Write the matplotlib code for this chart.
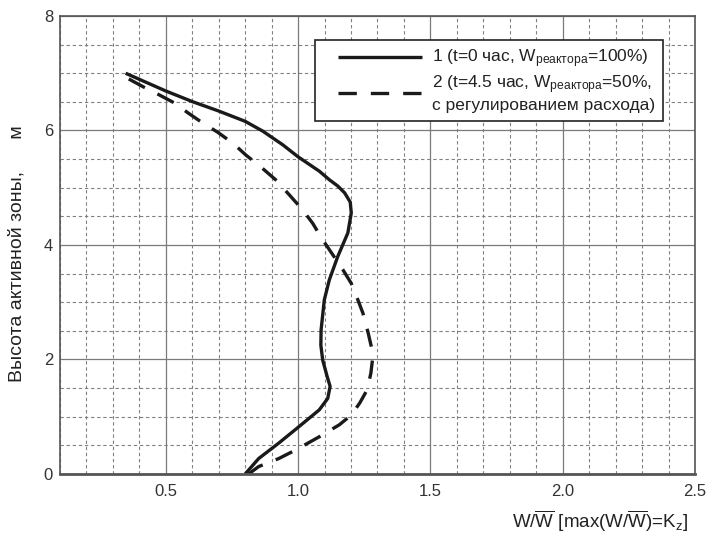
import matplotlib.pyplot as plt
from matplotlib.legend_handler import HandlerLine2D
import numpy as np

plt.rcParams['font.family'] = ['Liberation Sans', 'DejaVu Sans']
plt.rcParams['mathtext.fontset'] = 'custom'
plt.rcParams['mathtext.rm'] = 'Liberation Sans'
plt.rcParams['mathtext.it'] = 'Liberation Sans'

# кривая 1: t=0 час, W=100%
w1 = [0.348, 0.50, 0.603, 0.70, 0.80, 0.866, 0.942, 1.00, 1.08, 1.118, 1.150,
      1.176, 1.197, 1.201, 1.188, 1.150, 1.118, 1.099, 1.087, 1.086, 1.093, 1.110,
      1.121, 1.112, 1.080, 1.004, 0.927, 0.851, 0.80]
h1 = [7.0, 6.69, 6.50, 6.34, 6.16, 5.99, 5.75, 5.54, 5.29, 5.14, 5.03,
      4.91, 4.75, 4.56, 4.21, 3.80, 3.39, 3.04, 2.52, 2.25, 1.99, 1.70,
      1.53, 1.32, 1.12, 0.83, 0.54, 0.27, 0.0]

# кривая 2: t=4.5 час, W=50%, с регулированием расхода
w2 = [0.36, 0.42, 0.476, 0.533, 0.583, 0.64, 0.696, 0.753, 0.803, 0.86, 0.915,
      0.966, 1.016, 1.055, 1.093, 1.131, 1.169, 1.201, 1.226, 1.245, 1.265, 1.277,
      1.281, 1.275, 1.261, 1.233, 1.201, 1.156, 1.080, 0.991, 0.927, 0.851, 0.813]
h2 = [6.90, 6.75, 6.62, 6.48, 6.31, 6.13, 5.97, 5.78, 5.57, 5.36, 5.14,
      4.88, 4.62, 4.38, 4.09, 3.83, 3.57, 3.33, 3.04, 2.81, 2.46, 2.22,
      1.99, 1.76, 1.47, 1.24, 1.03, 0.86, 0.65, 0.42, 0.27, 0.13, 0.0]

x_ticks = [0.5, 1.0, 1.5, 2.0, 2.5]
x_labels = ['0.5', '1.0', '1.5', '2.0', '2.5']
y_ticks = [0, 2, 4, 6, 8]

fig = plt.figure(figsize=(7.08, 5.33), dpi=100)
ax = fig.add_axes([0.0847, 0.1107, 0.8969, 0.8593])

ax.set_xlim(0.1, 2.5)
ax.set_ylim(0, 8)
ax.set_xticks(x_ticks)
ax.set_xticklabels(x_labels)
ax.set_yticks(y_ticks)
ax.set_xticks(np.arange(0.1, 2.5, 0.1), minor=True)
ax.set_yticks(np.arange(0, 8, 0.5), minor=True)
ax.tick_params(which='both', length=0, labelsize=12, colors='#333333')
ax.tick_params(axis='x', pad=7)
ax.tick_params(axis='y', pad=5)

ax.grid(which='major', color='#7a7a7a', linestyle='-', linewidth=0.9)
ax.grid(which='minor', color='#808080', linestyle=(0, (3, 2.5)), linewidth=0.8)
ax.set_axisbelow(True)
for s in ax.spines.values():
    s.set_color('#555555')
    s.set_linewidth(1.2)
ax.spines['bottom'].set_linewidth(2)

ax.plot(w1, h1, color='#1a1a1a', lw=2.4, solid_capstyle='butt',
        label='1 (t=0 час, W$_{\\mathrm{реактора}}$=100%)')
ax.plot(w2, h2, color='#1a1a1a', lw=2.4, dashes=(5.5, 4.2),
        label='2 (t=4.5 час, W$_{\\mathrm{реактора}}$=50%,\nс регулированием расхода)')

# лишний отступ слева от линий в легенде
pad = 0.9
leg = ax.legend(loc='upper right', bbox_to_anchor=(0.9364, 0.925),
                bbox_transform=fig.transFigure, fontsize=12.5, frameon=True,
                fancybox=False, edgecolor='#222222', framealpha=1,
                handlelength=4.8 + pad, handletextpad=0.6, borderpad=0.45,
                labelspacing=0.15, borderaxespad=0,
                handler_map={plt.Line2D: HandlerLine2D(xpad=pad)})
leg.get_frame().set_linewidth(1.2)
for t in leg.get_texts():
    t.set_color('#222222')

fig.text(0.0247, 0.524, 'Высота активной зоны,      м', rotation=90,
         ha='center', va='center', fontsize=14, color='#222222')
fig.text(0.9718, 0.0094, 'W/$\\overline{\\mathrm{W}}$ [max(W/$\\overline{\\mathrm{W}}$)=K$_z$]',
         ha='right', va='baseline', fontsize=13.5, color='#222222')

fig.savefig('out.png', dpi=100)
